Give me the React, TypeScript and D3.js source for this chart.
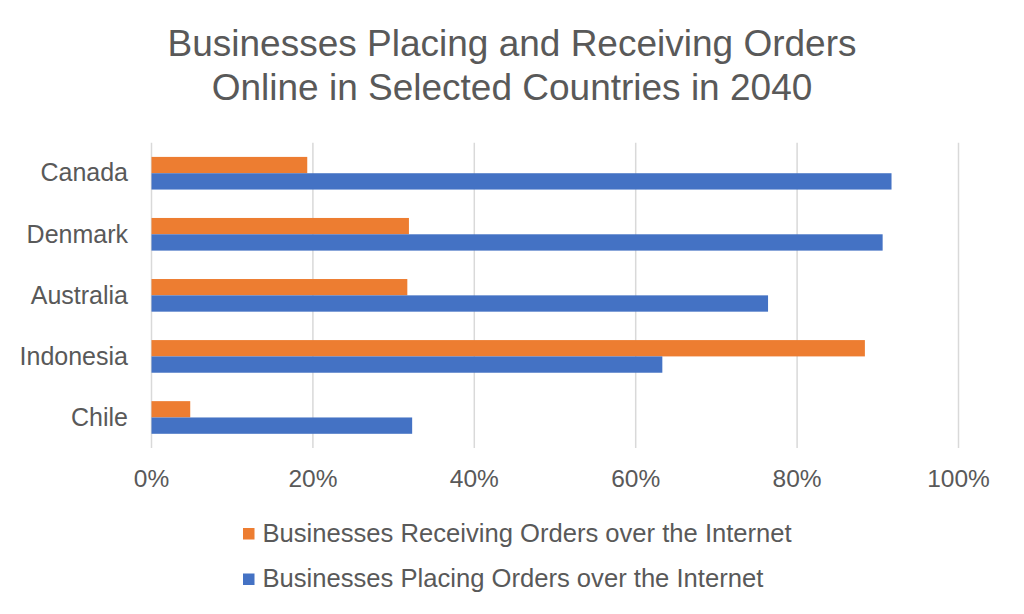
import React from "react";
import * as d3 from "d3";

const categories = ["Canada", "Denmark", "Australia", "Indonesia", "Chile"];
const seriesNames = [
  "Businesses Receiving Orders over the Internet",
  "Businesses Placing Orders over the Internet",
];
const receiving = [0.193, 0.319, 0.317, 0.884, 0.048];
const placing = [0.917, 0.906, 0.764, 0.633, 0.323];
const tickValues = [0, 0.2, 0.4, 0.6, 0.8, 1.0];
const titleLines = [
  "Businesses Placing and Receiving Orders",
  "Online in Selected Countries in 2040",
];
const colors = ["#ED7D31", "#4472C4"];

const W = 1024;
const H = 614;
const FONT = "'Liberation Sans', Arial, sans-serif";
const TEXT = "#595959";

export default function App() {
  const x = d3.scaleLinear().domain([0, 1]).range([151.5, 958.5]);
  const y = d3.scaleBand<string>().domain(categories).range([142.7, 448]).padding(0);
  const ySub = d3
    .scaleBand<string>()
    .domain(seriesNames)
    .range([0, y.bandwidth()])
    .paddingInner(0)
    .paddingOuter(0.87);
  const seriesValues = [receiving, placing];

  return (
    <svg
      width={W}
      height={H}
      style={{ position: "fixed", left: 0, top: 0, background: "#fff", display: "block" }}
      fontFamily={FONT}
    >
      <rect x={0} y={0} width={W} height={H} fill="#fff" />
      {titleLines.map((t, i) => (
        <text
          key={t}
          x={512}
          y={56 + i * 44}
          textAnchor="middle"
          fontSize={37}
          fill={TEXT}
        >
          {t}
        </text>
      ))}
      {tickValues.map((v) => (
        <line
          key={"g" + v}
          x1={x(v)}
          x2={x(v)}
          y1={142.7}
          y2={448}
          stroke="#d9d9d9"
          strokeWidth={1.5}
        />
      ))}
      {categories.map((c, ci) =>
        seriesNames.map((s, si) => (
          <rect
            key={c + s}
            x={x(0)}
            y={(y(c) as number) + (ySub(s) as number)}
            width={x(seriesValues[si][ci]) - x(0)}
            height={ySub.bandwidth()}
            fill={colors[si]}
          />
        ))
      )}
      {categories.map((c) => (
        <text
          key={"l" + c}
          x={128}
          y={(y(c) as number) + y.bandwidth() / 2}
          dy="0.33em"
          textAnchor="end"
          fontSize={25}
          fill={TEXT}
        >
          {c}
        </text>
      ))}
      {tickValues.map((v) => (
        <text
          key={"t" + v}
          x={x(v)}
          y={487}
          textAnchor="middle"
          fontSize={24.5}
          fill={TEXT}
        >
          {d3.format(".0%")(v)}
        </text>
      ))}
      {seriesNames.map((s, i) => (
        <g key={"lg" + s} transform={`translate(0, ${i * 45.5})`}>
          <rect x={243} y={528} width={11.5} height={11.5} fill={colors[i]} />
          <text x={262.5} y={541.7} fontSize={25.6} fill={TEXT}>
            {s}
          </text>
        </g>
      ))}
    </svg>
  );
}
